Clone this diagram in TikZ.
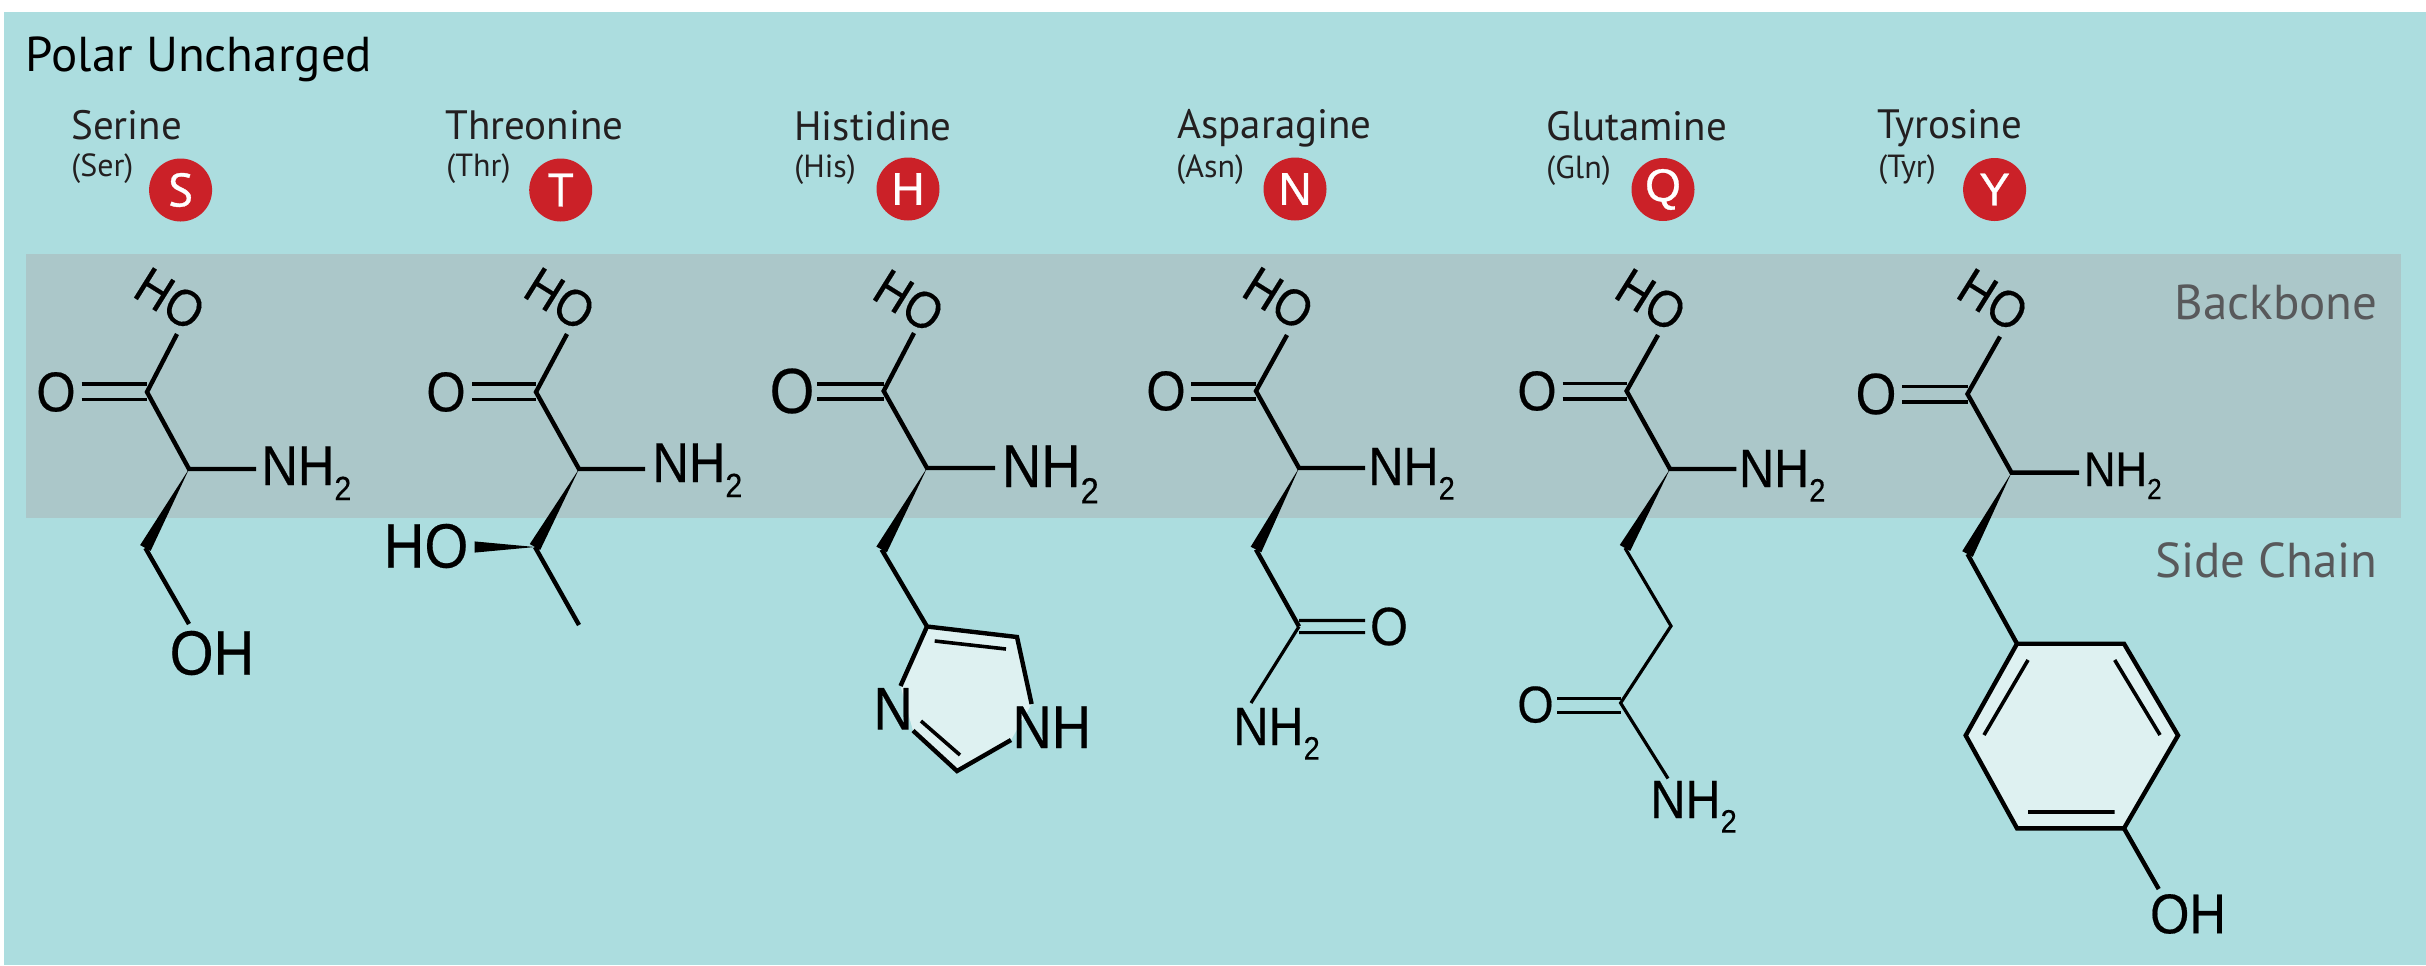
\documentclass[tikz,border=0pt]{standalone}
\usepackage{fontspec}
\usetikzlibrary{calc}
\setmainfont{PT Sans}
\newfontfamily\chemf[FakeStretch=0.9,FakeBold=0.35,Scale=1.08]{Liberation Sans}
\newfontfamily\badgef[FakeBold=0.7]{Liberation Sans}
\newfontfamily\badges[FakeBold=0.6]{PT Sans}
\definecolor{tealbg}{HTML}{ACDDDF}
\definecolor{bandbg}{HTML}{ABC7C9}
\definecolor{ringbg}{HTML}{DEF1F1}
\definecolor{ink}{HTML}{231F20}
\definecolor{greyink}{HTML}{58595B}
\definecolor{badgered}{HTML}{CB2128}
\newcommand{\nhtwo}{NH\raisebox{-0.27em}{\scalebox{0.6}{2}}}
\newcommand{\wedgebond}[3]{\fill (#1) -- ($(#2)!#3!90:(#1)$) -- ($(#2)!#3!-90:(#1)$) -- cycle;}
\tikzset{
  bond/.style={line width=2.2pt,black,line cap=butt,line join=miter},
  dbl/.style={line width=1.8pt,black},
  thin bond/.style={line width=1.6pt,black},
  chem/.style={font=\chemf\fontsize{#1}{#1}\selectfont,inner sep=0pt,text=black},
  hdr/.style={font=\fontsize{24.5}{25}\selectfont,anchor=base west,inner sep=0pt,text=black},
  aa/.style={font=\fontsize{20.5}{21}\selectfont,anchor=base west,inner sep=0pt,text=ink},
  abbr/.style={font=\fontsize{16}{16}\selectfont,anchor=base west,inner sep=0pt,text=ink},
  region/.style={font=\fontsize{24.5}{25}\selectfont,anchor=base east,inner sep=0pt,text=greyink},
  badge/.style={circle,fill=badgered,minimum size=31.5pt,inner sep=0pt,text=white,font=\badges\fontsize{23.5}{23.5}\selectfont},
  badgeb/.style={badge,font=\badgef\fontsize{23}{23}\selectfont},
}
\begin{document}
\begin{tikzpicture}[x=0.5pt,y=-0.5pt]
\useasboundingbox (0,0) rectangle (2426,965);
\fill[white] (0,0) rectangle (2426,965);
\fill[tealbg] (4,12) rectangle (2426,965);
\fill[bandbg] (25.5,253.6) rectangle (2401,518);

\node[hdr] (title) at (25.5,71) {Polar Uncharged};
\node[region] (bb) at (2378,319) {Backbone};
\node[region] (sc) at (2378,577) {Side Chain};

% names
\node[aa] (nS) at (71,139) {Serine};
\node[abbr] (aS) at (71,176) {(Ser)};
\node[badge] (bS) at (180.6,190) {S};
\node[aa] (nT) at (445,139) {Threonine};
\node[abbr] (aT) at (446,176) {(Thr)};
\node[badge] (bT) at (560.7,190) {T};
\node[aa] (nH) at (794,140) {Histidine};
\node[abbr] (aH) at (794,177) {(His)};
\node[badgeb] (bH) at (908,189) {H};
\node[aa] (nN) at (1177,138) {Asparagine};
\node[abbr] (aN) at (1176,177) {(Asn)};
\node[badgeb] (bN) at (1295,189) {N};
\node[aa] (nQ) at (1545.6,140) {Glutamine};
\node[abbr] (aQ) at (1546,178) {(Gln)};
\node[badgeb] (bQ) at (1663,189.5) {Q};
\node[aa] (nY) at (1877.5,138.5) {Tyrosine};
\node[abbr] (aY) at (1878,177) {(Tyr)};
\node[badgeb] (bY) at (1994.6,189.5) {Y};

% ---- Serine
\coordinate (s1) at (147,392); \coordinate (sa) at (189,469); \coordinate (s2) at (145.4,548);
\coordinate (sOe) at (177,334); \coordinate (sNe) at (256,469); \coordinate (sHe) at (189,624);
\coordinate (sD1) at (81.6,384); \coordinate (sD2) at (81.6,399.6); \coordinate (s1a) at (147,384); \coordinate (s1b) at (147,399.6);
\node[chem=24,rotate=-32] (sHO) at (170,299) {HO};
\node[chem=26] (sO) at (56,392) {O};
\node[chem=26,anchor=base west] (sN) at (261,485) {\nhtwo};
\node[chem=29] (sOH) at (212,653) {OH};
\draw[bond] (sOe) -- (s1) -- (sa) -- (sNe);
\draw[dbl] (sD1) -- (s1a) (sD2) -- (s1b);
\wedgebond{sa}{s2}{3pt}
\draw[bond] (s2) -- (sHe);

% ---- Threonine
\coordinate (t1) at (536,392); \coordinate (ta) at (579,469); \coordinate (t2) at (535,547);
\coordinate (tOe) at (567,334); \coordinate (tNe) at (645,469); \coordinate (tMe) at (579,625);
\coordinate (tD1) at (472,384); \coordinate (tD2) at (472,399.6); \coordinate (t1a) at (536,384); \coordinate (t1b) at (536,399.6);
\coordinate (tWe) at (474.5,547);
\node[chem=24,rotate=-32] (tHO) at (560,299) {HO};
\node[chem=26] (tO) at (446,392) {O};
\node[chem=26,anchor=base west] (tN) at (652,482) {\nhtwo};
\node[chem=29] (tOH) at (426,546) {HO};
\draw[bond] (tOe) -- (t1) -- (ta) -- (tNe);
\draw[dbl] (tD1) -- (t1a) (tD2) -- (t1b);
\wedgebond{ta}{t2}{3pt}
\wedgebond{t2}{tWe}{2.8pt}
\draw[bond] (t2) -- (tMe);

% ---- Histidine
\coordinate (h1) at (883.7,391); \coordinate (ha) at (927,468); \coordinate (h2) at (881.6,549.5);
\coordinate (hOe) at (914,333); \coordinate (hNe) at (995,468);
\coordinate (hD1) at (817,383.7); \coordinate (hD2) at (817,399); \coordinate (h1a) at (883.7,383.7); \coordinate (h1b) at (883.7,399);
\coordinate (h4) at (927,626.5); \coordinate (h5) at (1017,637); \coordinate (hNHe) at (1031.6,704);
\coordinate (hNe2) at (900.5,686); \coordinate (hNe3) at (913,730.6); \coordinate (hC2) at (957,771); \coordinate (hNHe2) at (1011,740);
\coordinate (hi1) at (934.7,641); \coordinate (hi2) at (1006,649); \coordinate (hi3) at (921,721); \coordinate (hi4) at (960,755);
\fill[ringbg] (h4) -- (h5) -- (hNHe) -- (hNHe2) -- (hC2) -- (hNe3) -- (hNe2) -- cycle;
\node[chem=24,rotate=-32] (hHO) at (909,301) {HO};
\node[chem=29.5] (hO) at (792,391) {O};
\node[chem=28,anchor=base west] (hN) at (1001.6,487) {\nhtwo};
\node[chem=28,anchor=base west] (hN1) at (873,729.6) {N};
\node[chem=28,anchor=base west] (hNH) at (1012,748) {NH};
\draw[bond] (hOe) -- (h1) -- (ha) -- (hNe);
\draw[dbl] (hD1) -- (h1a) (hD2) -- (h1b);
\wedgebond{ha}{h2}{3pt}
\draw[bond] (h2) -- (h4) -- (h5) -- (hNHe);
\draw[bond] (h4) -- (hNe2) (hNe3) -- (hC2) -- (hNHe2);
\draw[dbl] (hi1) -- (hi2) (hi3) -- (hi4);

% ---- Asparagine
\coordinate (n1) at (1256,391); \coordinate (na) at (1299,468); \coordinate (n2) at (1256,549.5);
\coordinate (nOe) at (1287,335); \coordinate (nNe) at (1365,468);
\coordinate (nD1) at (1191,383.7); \coordinate (nD2) at (1191,399); \coordinate (n1a) at (1256,383.7); \coordinate (n1b) at (1256,399);
\coordinate (n3) at (1299,626.5); \coordinate (nE1) at (1365,620.4); \coordinate (nE2) at (1365,632.6); \coordinate (n3a) at (1299,620.4); \coordinate (n3b) at (1299,632.6);
\coordinate (nAm) at (1251,703);
\node[chem=24,rotate=-32] (nHO) at (1278.6,298.5) {HO};
\node[chem=26] (nO) at (1166,391) {O};
\node[chem=25,anchor=base west] (nN) at (1368,485) {\nhtwo};
\node[chem=25] (nO2) at (1389,626.5) {O};
\node[chem=25,anchor=base west] (nN2) at (1233,745) {\nhtwo};
\draw[bond] (nOe) -- (n1) -- (na) -- (nNe);
\draw[dbl] (nD1) -- (n1a) (nD2) -- (n1b);
\wedgebond{na}{n2}{3pt}
\draw[bond] (n2) -- (n3);
\draw[thin bond] (nE1) -- (n3a) (nE2) -- (n3b) (n3) -- (nAm);

% ---- Glutamine
\coordinate (q1) at (1626.6,391); \coordinate (qa) at (1670,469); \coordinate (q2) at (1625,548); \coordinate (q3) at (1671,626); \coordinate (q4) at (1620.6,703);
\coordinate (qOe) at (1658,335); \coordinate (qNe) at (1736.4,469);
\coordinate (qD1) at (1562.6,383.4); \coordinate (qD2) at (1562.6,398.8); \coordinate (q1a) at (1626.6,383.4); \coordinate (q1b) at (1626.6,398.8);
\coordinate (qE1) at (1557,698.5); \coordinate (qE2) at (1557,712.6); \coordinate (q4a) at (1620.6,698.5); \coordinate (q4b) at (1620.6,712.6);
\coordinate (qAm) at (1668,778.5);
\node[chem=24,rotate=-32] (qHO) at (1651,300) {HO};
\node[chem=26] (qO) at (1537,391) {O};
\node[chem=25,anchor=base west] (qN) at (1738.6,487) {\nhtwo};
\node[chem=24] (qO2) at (1535.5,704.6) {O};
\node[chem=25,anchor=base west] (qN2) at (1650,818) {\nhtwo};
\draw[bond] (qOe) -- (q1) -- (qa) -- (qNe);
\draw[dbl] (qD1) -- (q1a) (qD2) -- (q1b);
\wedgebond{qa}{q2}{3pt}
\draw[thin bond] (q2) -- (q3) -- (q4) -- (qAm);
\draw[thin bond] (qE1) -- (q4a) (qE2) -- (q4b);

% ---- Tyrosine
\coordinate (y1) at (1967.5,394); \coordinate (ya) at (2011.5,472.6); \coordinate (y2) at (1967.5,554);
\coordinate (yOe) at (2000,336.6); \coordinate (yNe) at (2079,472.6);
\coordinate (yD1) at (1902,386.5); \coordinate (yD2) at (1902,402); \coordinate (y1a) at (1967.5,386.5); \coordinate (y1b) at (1967.5,402);
\coordinate (r1) at (2017,643.7); \coordinate (r2) at (2124,643.7); \coordinate (r3) at (2178,735.4); \coordinate (r4) at (2124,828.3); \coordinate (r5) at (2017,828.3); \coordinate (r6) at (1965.7,735.4);
\coordinate (ri1) at (2028,660); \coordinate (ri2) at (1984,735); \coordinate (ri3) at (2114.7,660); \coordinate (ri4) at (2160,735); \coordinate (ri5) at (2028,812); \coordinate (ri6) at (2114.7,812);
\coordinate (yHe) at (2158.7,889);
\node[chem=24,rotate=-32] (yHO) at (1993,300) {HO};
\node[chem=27] (yO) at (1876,394) {O};
\node[chem=22.5,anchor=base west] (yN) at (2083.5,486) {\nhtwo};
\node[chem=26] (yOH) at (2188,914) {OH};
\draw[bond] (yOe) -- (y1) -- (ya) -- (yNe);
\draw[dbl] (yD1) -- (y1a) (yD2) -- (y1b);
\wedgebond{ya}{y2}{3pt}
\draw[bond] (y2) -- (r1);
\filldraw[bond,fill=ringbg] (r1) -- (r2) -- (r3) -- (r4) -- (r5) -- (r6) -- cycle;
\draw[dbl] (ri1) -- (ri2) (ri3) -- (ri4) (ri5) -- (ri6);
\draw[bond] (r4) -- (yHe);
\end{tikzpicture}
\end{document}
